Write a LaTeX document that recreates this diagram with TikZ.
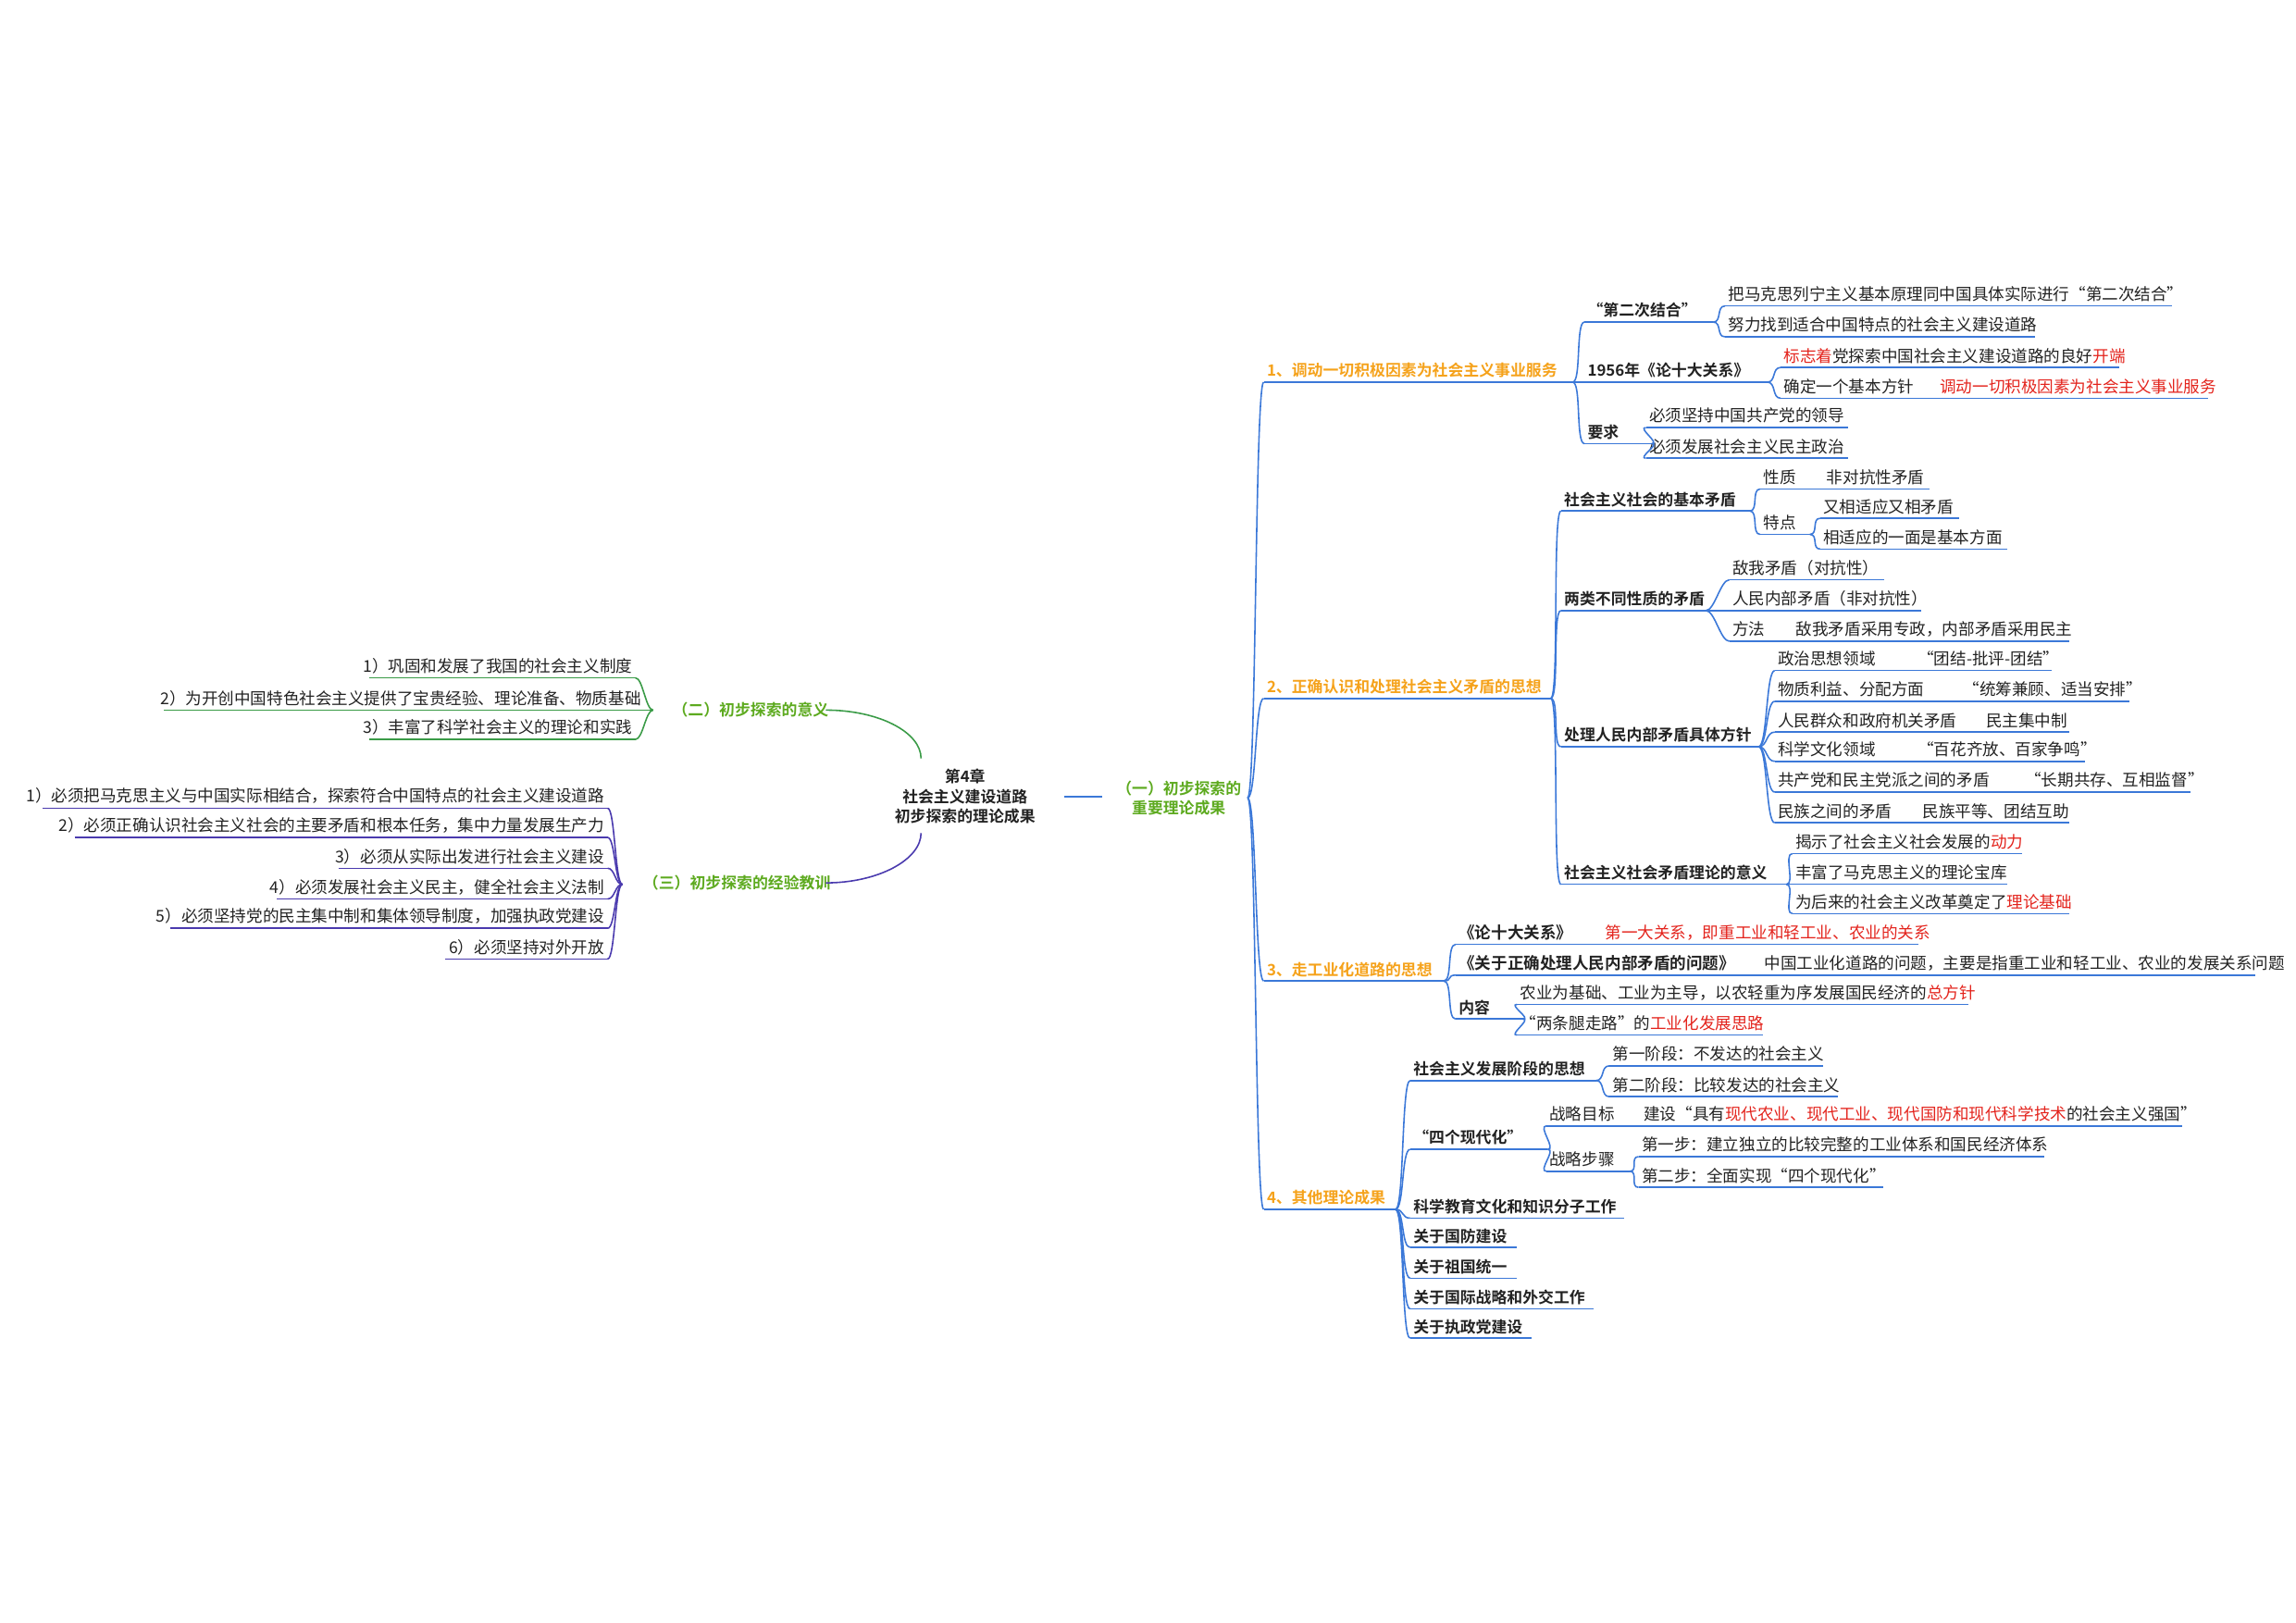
\documentclass[tikz,border=0pt]{standalone}
\usepackage{fontspec}
\setmainfont{Noto Sans CJK SC}[BoldFont={Noto Sans CJK SC Bold}]
\definecolor{blueL}{HTML}{3B78D8}
\definecolor{orgT}{HTML}{F5A21B}
\definecolor{greenT}{HTML}{5DAA1F}
\definecolor{greenL}{HTML}{3A9B47}
\definecolor{purpL}{HTML}{4A3AAE}
\definecolor{redT}{HTML}{E3231C}
\definecolor{txt}{HTML}{222222}
\newcommand\rd[1]{\textcolor{redT}{#1}}
\newcommand\MN[7]{\node[anchor=south west,#6] (#1) at (#2,#4) {#7};\coordinate (#1-e) at (#3,#4);\draw[ln,#5] (#1.south west) -- (#1-e);}
\newcommand\ML[6]{\node[anchor=south east] (#1) at (#3,#4) {#6};\coordinate (#1-w) at (#2,#4);\draw[ln,#5] (#1-w) -- (#1.south east);}
\newcommand\CN[3]{\draw[ln,#1] (#2-e) .. controls +(6,0) and +(-6,0) .. (#3.south west);}
\begin{document}
\begin{tikzpicture}[x=0.01582cm,y=-0.01582cm,
  every node/.style={inner xsep=0.8pt,inner ysep=1.1pt,text=txt,font=\fontsize{5}{6}\selectfont},
  ln/.style={line width=0.45pt},
  b/.style={font=\fontsize{4.8}{6}\selectfont\bfseries},
  o/.style={font=\fontsize{4.8}{6}\selectfont\bfseries,text=orgT}]
\useasboundingbox (0,0) rectangle (1568,1108);
% centre
\node[b,align=center,font=\fontsize{4.8}{6.2}\selectfont\bfseries] (c) at (659,544) {第4章\\社会主义建设道路\\初步探索的理论成果};
\node[align=center,font=\fontsize{4.8}{5.9}\selectfont\bfseries,text=greenT] (yi) at (805,545) {（一）初步探索的\\重要理论成果};
\coordinate (c-e) at (727,544);
\coordinate (yi-w) at (753,544);
\coordinate (yi-e) at (852,545);
\draw[ln,blueL] (c-e) -- (yi-w);
\node[anchor=west,font=\fontsize{4.8}{6}\selectfont\bfseries,text=greenT] (er) at (457,485) {（二）初步探索的意义};
\node[anchor=west,font=\fontsize{4.8}{6}\selectfont\bfseries,text=greenT] (san) at (437,603) {（三）初步探索的经验教训};
\coordinate (c-n) at (629,518);
\coordinate (c-s) at (629,569);
\coordinate (er-e) at (564,485);
\coordinate (san-e) at (564,603);
\coordinate (er-b) at (446,485);
\coordinate (san-b) at (425,604);
\draw[ln,greenL] (er-e) .. controls (600,485) and (629,500) .. (c-n);
\draw[ln,purpL] (san-e) .. controls (600,603) and (629,587) .. (c-s);
% left green
\ML{g1}{252}{434}{463}{greenL}{1）巩固和发展了我国的社会主义制度}
\ML{g2}{112}{440}{485}{greenL}{2）为开创中国特色社会主义提供了宝贵经验、理论准备、物质基础}
\ML{g3}{252}{434}{505}{greenL}{3）丰富了科学社会主义的理论和实践}
\foreach \n in {g1,g2,g3}{\draw[ln,greenL] (er-b) .. controls +(-5,0) and +(5,0) .. (\n.south east);}
% left purple
\ML{p1}{29}{415}{552}{purpL}{1）必须把马克思主义与中国实际相结合，探索符合中国特点的社会主义建设道路}
\ML{p2}{51}{415}{572}{purpL}{2）必须正确认识社会主义社会的主要矛盾和根本任务，集中力量发展生产力}
\ML{p3}{231}{415}{593}{purpL}{3）必须从实际出发进行社会主义建设}
\ML{p4}{189}{415}{614}{purpL}{4）必须发展社会主义民主，健全社会主义法制}
\ML{p5}{116}{415}{634}{purpL}{5）必须坚持党的民主集中制和集体领导制度，加强执政党建设}
\ML{p6}{304}{415}{655}{purpL}{6）必须坚持对外开放}
\foreach \n in {p1,p2,p3,p4,p5,p6}{\draw[ln,purpL] (san-b) .. controls +(-5,0) and +(5,0) .. (\n.south east);}
% right
\MN{n1}{863}{1074}{261}{blueL}{o}{1、调动一切积极因素为社会主义事业服务}
\MN{n2}{863}{1059}{477}{blueL}{o}{2、正确认识和处理社会主义矛盾的思想}
\MN{n3}{863}{986}{670}{blueL}{o}{3、走工业化道路的思想}
\MN{n4}{863}{953}{826}{blueL}{o}{4、其他理论成果}
\foreach \n in {n1,n2,n3,n4}{\CN{blueL}{yi}{\n}}
% branch 1
\MN{a1}{1082}{1170}{220}{blueL}{b}{“第二次结合”}
\MN{a11}{1178}{1483}{209}{blueL}{}{把马克思列宁主义基本原理同中国具体实际进行“第二次结合”}
\MN{a12}{1178}{1390}{230}{blueL}{}{努力找到适合中国特点的社会主义建设道路}
\MN{a2}{1082}{1207}{261}{blueL}{b}{1956年《论十大关系》}
\MN{a21}{1216}{1447}{251}{blueL}{}{\rd{标志着}党探索中国社会主义建设道路的良好\rd{开端}}
\MN{a22}{1216}{1508}{272}{blueL}{}{确定一个基本方针\hspace{1.6em}\rd{调动一切积极因素为社会主义事业服务}}
\MN{a3}{1082}{1128}{303}{blueL}{b}{要求}
\MN{a31}{1124}{1262}{292}{blueL}{}{必须坚持中国共产党的领导}
\MN{a32}{1124}{1262}{313}{blueL}{}{必须发展社会主义民主政治}
\foreach \n in {a1,a2,a3}{\CN{blueL}{n1}{\n}}
\foreach \n in {a11,a12}{\CN{blueL}{a1}{\n}}
\foreach \n in {a21,a22}{\CN{blueL}{a2}{\n}}
\foreach \n in {a31,a32}{\CN{blueL}{a3}{\n}}
% branch 2
\MN{b1}{1066}{1195}{349}{blueL}{b}{社会主义社会的基本矛盾}
\MN{b11}{1202}{1318}{334}{blueL}{}{性质\hspace{1.9em}非对抗性矛盾}
\MN{b12}{1202}{1236}{365}{blueL}{}{特点}
\MN{b121}{1243}{1338}{354}{blueL}{}{又相适应又相矛盾}
\MN{b122}{1243}{1371}{375}{blueL}{}{相适应的一面是基本方面}
\MN{b2}{1066}{1165}{417}{blueL}{b}{两类不同性质的矛盾}
\MN{b21}{1181}{1287}{396}{blueL}{}{敌我矛盾（对抗性）}
\MN{b22}{1181}{1312}{417}{blueL}{}{人民内部矛盾（非对抗性）}
\MN{b23}{1181}{1413}{438}{blueL}{}{方法\hspace{1.9em}敌我矛盾采用专政，内部矛盾采用民主}
\MN{b3}{1066}{1201}{510}{blueL}{b}{处理人民内部矛盾具体方针}
\MN{b31}{1212}{1401}{458}{blueL}{}{政治思想领域\hspace{2.6em}“团结-批评-团结”}
\MN{b32}{1212}{1454}{479}{blueL}{}{物质利益、分配方面\hspace{2.4em}“统筹兼顾、适当安排”}
\MN{b33}{1212}{1413}{500}{blueL}{}{人民群众和政府机关矛盾\hspace{1.8em}民主集中制}
\MN{b34}{1212}{1424}{520}{blueL}{}{科学文化领域\hspace{2.6em}“百花齐放、百家争鸣”}
\MN{b35}{1212}{1496}{541}{blueL}{}{共产党和民主党派之间的矛盾\hspace{2.2em}“长期共存、互相监督”}
\MN{b36}{1212}{1413}{562}{blueL}{}{民族之间的矛盾\hspace{1.9em}民族平等、团结互助}
\MN{b4}{1066}{1220}{604}{blueL}{b}{社会主义社会矛盾理论的意义}
\MN{b41}{1224}{1381}{583}{blueL}{}{揭示了社会主义社会发展的\rd{动力}}
\MN{b42}{1224}{1371}{604}{blueL}{}{丰富了马克思主义的理论宝库}
\MN{b43}{1224}{1413}{624}{blueL}{}{为后来的社会主义改革奠定了\rd{理论基础}}
\foreach \n in {b1,b2,b3,b4}{\CN{blueL}{n2}{\n}}
\foreach \n in {b11,b12}{\CN{blueL}{b1}{\n}}
\foreach \n in {b121,b122}{\CN{blueL}{b12}{\n}}
\foreach \n in {b21,b22,b23}{\CN{blueL}{b2}{\n}}
\foreach \n in {b31,b32,b33,b34,b35,b36}{\CN{blueL}{b3}{\n}}
\foreach \n in {b41,b42,b43}{\CN{blueL}{b4}{\n}}
% branch 3
\MN{c1}{994}{1310}{645}{blueL}{}{\textbf{《论十大关系》}\hspace{2em}\rd{第一大关系，即重工业和轻工业、农业的关系}}
\MN{c2}{994}{1540}{666}{blueL}{}{\textbf{《关于正确处理人民内部矛盾的问题》}\hspace{1.8em}中国工业化道路的问题，主要是指重工业和轻工业、农业的发展关系问题}
\MN{c3}{994}{1040}{696}{blueL}{b}{内容}
\MN{c31}{1036}{1344}{686}{blueL}{}{农业为基础、工业为主导，以农轻重为序发展国民经济的\rd{总方针}}
\MN{c32}{1036}{1204}{707}{blueL}{}{“两条腿走路”的\rd{工业化发展思路}}
\foreach \n in {c1,c2,c3}{\CN{blueL}{n3}{\n}}
\foreach \n in {c31,c32}{\CN{blueL}{c3}{\n}}
% branch 4
\MN{d1}{963}{1090}{738}{blueL}{b}{社会主义发展阶段的思想}
\MN{d11}{1099}{1245}{728}{blueL}{}{第一阶段：不发达的社会主义}
\MN{d12}{1099}{1255}{749}{blueL}{}{第二阶段：比较发达的社会主义}
\MN{d2}{963}{1057}{785}{blueL}{b}{“四个现代化”}
\MN{d21}{1056}{1490}{769}{blueL}{}{战略目标\hspace{1.8em}建设“具有\rd{现代农业、现代工业、现代国防和现代科学技术}的社会主义强国”}
\MN{d22}{1056}{1113}{800}{blueL}{}{战略步骤}
\MN{d221}{1119}{1396}{790}{blueL}{}{第一步：建立独立的比较完整的工业体系和国民经济体系}
\MN{d222}{1119}{1286}{811}{blueL}{}{第二步：全面实现“四个现代化”}
\MN{d3}{963}{1109}{832}{blueL}{b}{科学教育文化和知识分子工作}
\MN{d4}{963}{1036}{852}{blueL}{b}{关于国防建设}
\MN{d5}{963}{1036}{873}{blueL}{b}{关于祖国统一}
\MN{d6}{963}{1088}{894}{blueL}{b}{关于国际战略和外交工作}
\MN{d7}{963}{1046}{914}{blueL}{b}{关于执政党建设}
\foreach \n in {d1,d2,d3,d4,d5,d6,d7}{\CN{blueL}{n4}{\n}}
\foreach \n in {d11,d12}{\CN{blueL}{d1}{\n}}
\foreach \n in {d21,d22}{\CN{blueL}{d2}{\n}}
\foreach \n in {d221,d222}{\CN{blueL}{d22}{\n}}
\end{tikzpicture}
\end{document}
